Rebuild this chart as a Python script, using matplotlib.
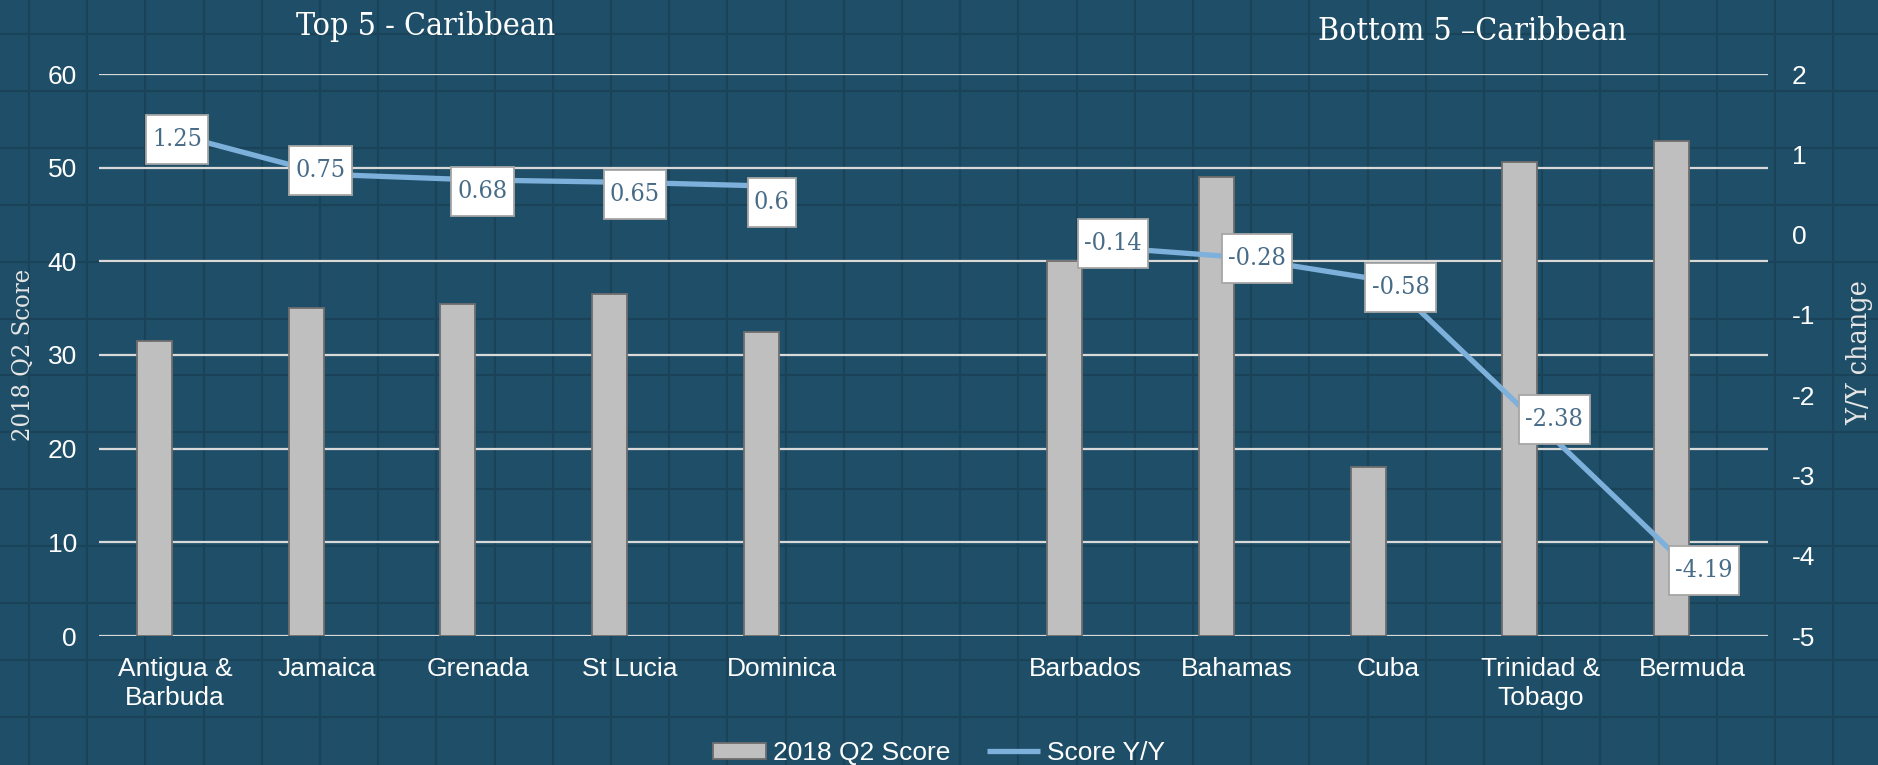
import matplotlib
matplotlib.use("Agg")
import numpy as np
import matplotlib.pyplot as plt
from matplotlib import font_manager
from matplotlib.path import Path

plt.rcParams["axes.unicode_minus"] = False

# ---------------- data ----------------
categories = ["Antigua &\nBarbuda", "Jamaica", "Grenada", "St Lucia", "Dominica", "",
              "Barbados", "Bahamas", "Cuba", "Trinidad &\nTobago", "Bermuda"]
scores = [31.5, 35.0, 35.4, 36.5, 32.5, np.nan, 40.0, 49.0, 18.0, 50.6, 52.9]
yy_change = [1.25, 0.75, 0.68, 0.65, 0.60, np.nan, -0.14, -0.28, -0.58, -2.38, -4.19]
yy_labels = ["1.25", "0.75", "0.68", "0.65", "0.6", "", "-0.14", "-0.28", "-0.58", "-2.38", "-4.19"]
left_ticks = [0, 10, 20, 30, 40, 50, 60]
right_ticks = [-5, -4, -3, -2, -1, 0, 1, 2]
title_top = "Top 5 - Caribbean"
title_bottom = "Bottom 5 \u2013Caribbean"
series_names = ["2018 Q2 Score", "Score Y/Y"]

# ---------------- style ----------------
W, H = 1878, 765
BG = "#1f4f68"
BG_GRID = "#1a4258"
GRID = "#d9d9d9"
BAR_FACE = "#bfbfbf"
BAR_EDGE = "#6e6e6e"
LINE = "#7db1db"
LABEL_TXT = "#486c87"
SANS = ["Liberation Sans", "DejaVu Sans"]
SERIF = ["DejaVu Serif"]
# data-label nudges (pixels, x right / y up), as placed in the original
label_nudge = [(2, -5), (-6, 4), (4, -12), (5, -12), (-10, -16), (0, 0),
               (28, 2), (20, -1), (12, -6), (14, 6), (12, 0)]

serif_stretch = "normal"
for f in font_manager.fontManager.ttflist:
    if f.name == "DejaVu Serif" and str(f.stretch) in ("condensed", "semi-condensed"):
        serif_stretch = "condensed"
        break
cond = serif_stretch == "condensed"


def label_box(x0, y0, width, height, mutation_size):
    px = 0.25 * mutation_size
    py = 0.52 * mutation_size
    xa, xb = x0 - px, x0 + width + px
    ya, yb = y0 - py, y0 + height + py
    return Path([(xa, ya), (xb, ya), (xb, yb), (xa, yb), (xa, ya)], closed=True)


fig = plt.figure(figsize=(W / 100, H / 100), dpi=100)
fig.patch.set_facecolor(BG)

# background checker grid
bg = fig.add_axes([0, 0, 1, 1], zorder=-10)
bg.set_xlim(0, W)
bg.set_ylim(H, 0)
bg.axis("off")
bg.vlines(np.arange(29, W, 58.2), 0, H, color=BG_GRID, lw=1.6)
bg.hlines(np.arange(34 - 56.9, H, 56.9), 0, W, color=BG_GRID, lw=1.6)

left, right, top, bottom = 99, 1768, 74, 636
ax = fig.add_axes([left / W, 1 - bottom / H, (right - left) / W, (bottom - top) / H])
ax.set_facecolor("none")
for s in ax.spines.values():
    s.set_visible(False)

x = np.arange(len(categories))
bar_w = 0.23
ax.bar(x - 0.135, scores, width=bar_w, color=BAR_FACE, edgecolor=BAR_EDGE,
       linewidth=1.3, zorder=3, label=series_names[0])
ax.set_xlim(-0.5, len(categories) - 0.5)
ax.set_ylim(left_ticks[0], left_ticks[-1])
ax.set_yticks(left_ticks)
ax.yaxis.grid(True, color=GRID, lw=1.6, zorder=1)
ax.set_axisbelow(True)
ax.tick_params(axis="y", length=0, pad=16, labelsize=19, labelcolor="white")
ax.set_xticks(x)
ax.set_xticklabels(categories, linespacing=1.28)
ax.tick_params(axis="x", length=0, pad=15, labelsize=19, labelcolor="white")
for t in ax.get_xticklabels() + ax.get_yticklabels():
    t.set_fontfamily(SANS)

ax2 = ax.twinx()
ax2.set_facecolor("none")
for s in ax2.spines.values():
    s.set_visible(False)
ax2.plot(x, yy_change, color=LINE, lw=3.8, solid_capstyle="butt", zorder=4,
         label=series_names[1])
ax2.set_ylim(right_ticks[0], right_ticks[-1])
ax2.set_yticks(right_ticks)
ax2.tick_params(axis="y", length=0, pad=17, labelsize=19, labelcolor="white")
for t in ax2.get_yticklabels():
    t.set_fontfamily(SANS)

lab_size = 18 if cond else 16.5
for xi, v, s, nd in zip(x, yy_change, yy_labels, label_nudge):
    if np.isnan(v):
        continue
    ax2.annotate(s, (xi, v), xytext=nd, textcoords="offset pixels",
                 ha="center", va="center", fontsize=lab_size,
                 family=SERIF, fontstretch=serif_stretch, color=LABEL_TXT, zorder=6,
                 bbox=dict(boxstyle=label_box, fc="white", ec="#a6a6a6", lw=1.3))

# titles
t_size = 23 if cond else 21
fig.text(426 / W, 1 - 35 / H, title_top, ha="center", va="baseline", fontsize=t_size,
         family=SERIF, fontstretch=serif_stretch, color="white")
fig.text(1472 / W, 1 - 40 / H, title_bottom, ha="center", va="baseline", fontsize=t_size,
         family=SERIF, fontstretch=serif_stretch, color="white")

# axis titles
fig.text(23 / W, 1 - 355 / H, "2018 Q2 Score", rotation=90, ha="center", va="center",
         fontsize=18.3 if cond else 17, family=SERIF, fontstretch=serif_stretch,
         color="#e6e6e6")
fig.text(1860 / W, 1 - 353 / H, "Y/Y change", rotation=90, ha="center", va="center",
         fontsize=20.5 if cond else 19, family=SERIF, fontstretch=serif_stretch,
         color="#e6e6e6")

# legend
h1, l1 = ax.get_legend_handles_labels()
h2, l2 = ax2.get_legend_handles_labels()
leg = fig.legend(h1 + h2, l1 + l2, loc="center", bbox_to_anchor=(0.5, 1 - 753 / H),
                 ncol=2, frameon=False, handlelength=2.0,
                 handleheight=0.55, handletextpad=0.25, columnspacing=1.4,
                 prop={"family": SANS, "size": 19})
for t in leg.get_texts():
    t.set_color("white")

fig.savefig("out.png", dpi=100, facecolor=BG)
